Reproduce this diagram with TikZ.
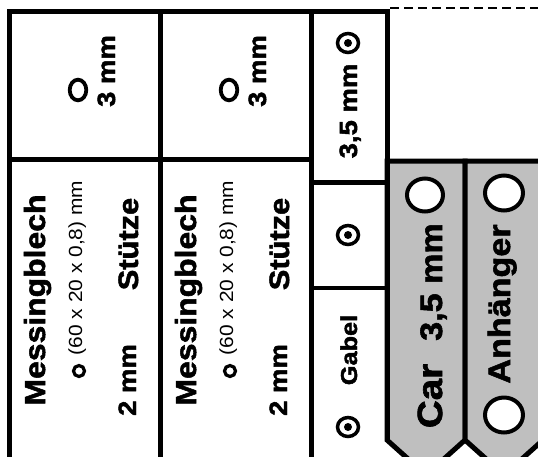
\documentclass[tikz,border=0pt]{standalone}
\usepackage{fontspec}
\setmainfont{Liberation Sans}[FakeStretch=1.1,BoldFeatures={FakeBold=1.8}]
\begin{document}
\begin{tikzpicture}[x=1pt,y=-1pt,
  border/.style={line width=5pt},
  thin/.style={line width=4.5pt},
  lbl/.style={rotate=90,anchor=base,inner sep=0pt,font=\bfseries},
  small/.style={rotate=90,anchor=base,inner sep=0pt},
  ring/.style={line width=3.2pt},
  hole/.style={line width=4pt,fill=white}]
\useasboundingbox (0,0) rectangle (538,456);
% gray strips
\draw[border,fill=black!25,line join=miter] (387,161) -- (465,161) -- (465,440) -- (426,475) -- (387,440) -- cycle;
\draw[border,fill=black!25,line join=miter] (465,161) -- (543,161) -- (543,440) -- (504,475) -- (465,440) -- cycle;
% frame
\draw[border,line join=miter] (9.5,460) -- (9.5,11.5) -- (389.5,11.5);
\draw[border] (160.5,11.5) -- (160.5,460);
\draw[border] (311.5,11.5) -- (311.5,460);
\draw[border] (387,11.5) -- (387,440);
\draw[border] (9.5,159) -- (311.5,159);
\draw[thin] (311.5,182.5) -- (387,182.5);
\draw[thin] (311.5,288) -- (387,288);
\draw[thin] (387,161) -- (540,161);
\draw[line width=1.8pt,dash pattern=on 9pt off 5pt] (390,8) -- (540,8);
% columns 1 and 2
\foreach \dx/\k in {0/a,151/b} {
  \draw[line width=3.8pt] (78+\dx,90) ellipse (8.3 and 10.3);
  \node[lbl,font=\bfseries\fontsize{25}{25}\selectfont] (mm\k) at (115+\dx,71) {3 mm};
  \node[lbl,font=\bfseries\fontsize{29}{29}\selectfont] (mess\k) at (45+\dx,300) {Messingblech};
  \draw[ring] (79+\dx,371) circle (5.5);
  \node[small,font=\fontsize{19}{19}\selectfont] (dim\k) at (82+\dx,268) {(60 x 20 x 0,8) mm};
  \node[lbl,font=\bfseries\fontsize{25}{25}\selectfont] (two\k) at (136+\dx,380) {2 mm};
  \node[lbl,font=\bfseries\fontsize{28}{28}\selectfont] (st\k) at (138+\dx,244) {Stütze};
}
% narrow column
\node[lbl,font=\bfseries\fontsize{25}{25}\selectfont] (tf) at (357,111) {3,5 mm};
\foreach \yy in {43,235,427} {
  \draw[line width=3.5pt] (348,\yy) ellipse (10.5 and 9.5);
  \fill (348,\yy) circle (4);
}
\node[lbl,font=\bfseries\fontsize{23}{23}\selectfont] (gabel) at (357,350) {Gabel};
% strips text
\draw[hole] (425,195) ellipse (18 and 16.5);
\node[lbl,font=\bfseries\fontsize{35}{35}\selectfont] (car) at (442,396) {Car};
\node[lbl,font=\bfseries\fontsize{31}{31}\selectfont] (cmm) at (442,282) {3,5 mm};
\draw[hole] (504,193) ellipse (19 and 17.5);
\draw[hole] (504,415) ellipse (19 and 17.5);
\node[lbl,font=\bfseries\fontsize{31}{31}\selectfont] (anh) at (510,304) {Anhänger};
\end{tikzpicture}
\end{document}
